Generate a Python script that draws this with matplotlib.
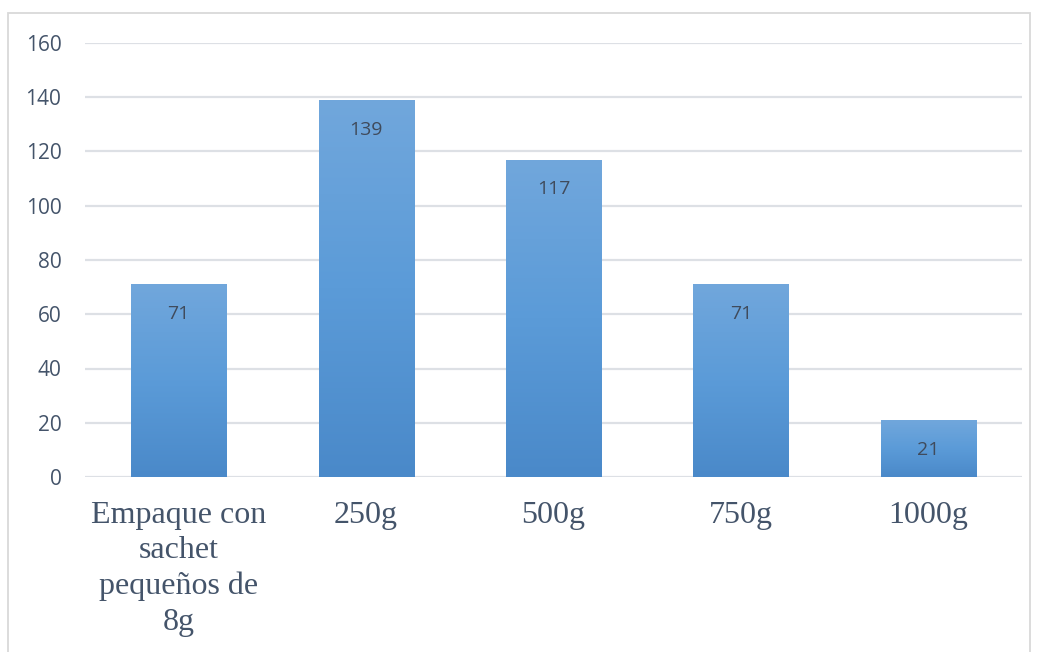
import numpy as np
import matplotlib.pyplot as plt
from matplotlib.colors import LinearSegmentedColormap
from matplotlib.patches import Rectangle

categories = ["Empaque con\nsachet\npequeños de\n8g", "250g", "500g", "750g", "1000g"]
values = [71, 139, 117, 71, 21]
yticks = [0, 20, 40, 60, 80, 100, 120, 140, 160]

W, H = 1037, 652
fig = plt.figure(figsize=(W / 100, H / 100), dpi=100)
ax = fig.add_axes([85 / W, 175 / H, 937 / W, 434 / H])

# marco gris del grafico
fig.patches.append(Rectangle((8 / W, -0.1), 1022 / W, 1.1 - 13 / H,
                             transform=fig.transFigure, fill=False,
                             edgecolor='#d9d9d9', lw=1.3))

cmap = LinearSegmentedColormap.from_list('barra', ['#4a89c9', '#5b9bd8', '#71a7dc'])
x = np.arange(len(categories))
bars = ax.bar(x, values, width=0.507, color='none', zorder=3)
grad = np.linspace(0, 1, 256).reshape(-1, 1)
for b, v in zip(bars, values):
    x0 = b.get_x()
    im = ax.imshow(grad, cmap=cmap, aspect='auto', origin='lower',
                   extent=(x0, x0 + b.get_width(), 0, v), zorder=3)
    im.set_clip_path(b)
    ax.text(b.get_x() + b.get_width() / 2, v - 11, str(v), ha='center', va='center',
            fontsize=14, color='#404b5c', family='Open Sans', zorder=4)

ax.set_xlim(-0.5, len(categories) - 0.5)
ax.set_ylim(0, 160)
ax.set_yticks(yticks)
ax.set_xticks(x)
ax.set_xticklabels(categories, family='Liberation Serif', fontsize=23,
                   color='#44546a', linespacing=1.3)
for t in ax.get_yticklabels():
    t.set_family('Open Sans')
    t.set_fontsize(15)
    t.set_color('#44546a')
ax.tick_params(axis='y', length=0, pad=17)
ax.tick_params(axis='x', length=0, pad=17)
ax.grid(axis='y', color='#dde0e5', lw=1.6, zorder=0)
ax.set_axisbelow(True)
for s in ax.spines.values():
    s.set_visible(False)

fig.savefig('out.png', dpi=100)
